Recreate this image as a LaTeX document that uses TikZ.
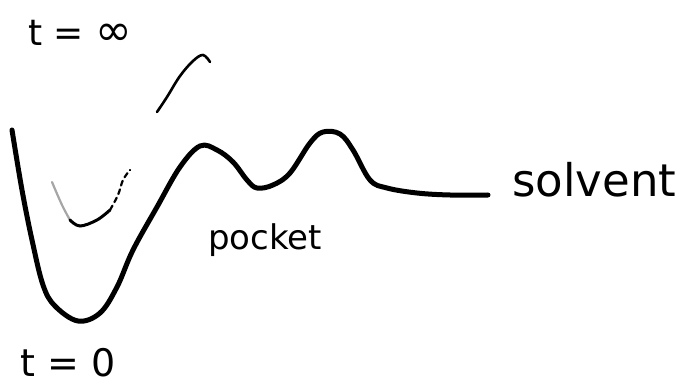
\documentclass[tikz,border=0pt]{standalone}
\usepackage{fontspec}
\setmainfont{DejaVu Sans}
\begin{document}
\begin{tikzpicture}[x=1pt,y=-1pt,
  landscape/.style={line width=5pt,line cap=round,line join=round},
  faint/.style={line width=2.2pt,line cap=round},
  label/.style={inner sep=0pt,anchor=base west}]
\useasboundingbox (0,0) rectangle (688,390);
% energy landscape at t = 0
\draw[landscape] plot[smooth,tension=0.6] coordinates {
  (12,130) (22,190) (32,240) (43,285) (55,306) (78,321) (100,313) (117,287)
  (133,250) (157,207) (180,167) (200,146) (217,150) (233,162) (247,180)
  (257,188) (273,185) (290,173) (310,143) (323,132) (340,134) (353,150)
  (370,180) (387,188) (417,193) (450,195) (488,195)};
% faint landscape at t = infinity
\draw[faint,gray!70] plot[smooth,tension=0.6] coordinates {
  (52,182) (62,205) (70,220)};
\draw[faint,line width=3pt] plot[smooth,tension=0.6] coordinates {
  (70,220) (80,226) (97,220) (110,210)};
\draw[faint,dash pattern=on 5pt off 4pt] plot[smooth,tension=0.6] coordinates {
  (110,210) (118,195) (123,180) (130,170)};
\draw[faint,line width=2.6pt] plot[smooth,tension=0.6] coordinates {
  (157,112) (167,97) (180,76) (193,61) (203,55) (210,62)};
% labels
\node[label] (tinf) at (28,46) {\fontsize{36}{42}\selectfont t = {\fontsize{44}{42}\selectfont ∞}};
\node[label] (pocket) at (208,250) {\fontsize{34}{40}\selectfont pocket};
\node[label] (solvent) at (512,197) {\fontsize{45}{52}\selectfont solvent};
\node[label] (tzero) at (20,376) {\fontsize{38}{46}\selectfont t = 0};
\end{tikzpicture}
\end{document}
